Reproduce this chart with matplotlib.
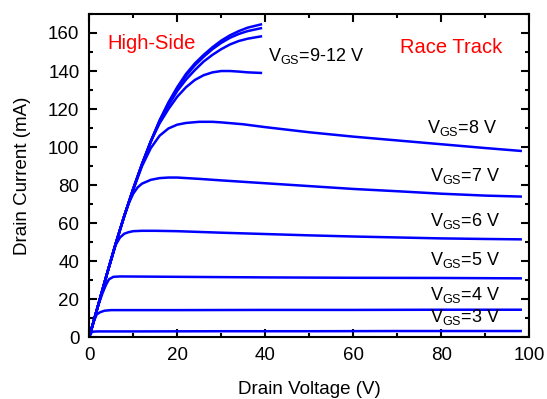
"""
Output characteristics (Id-Vd) of the high-side race track device
"""
import matplotlib
matplotlib.use("Agg")
import matplotlib.pyplot as plt
from matplotlib.ticker import MultipleLocator

plt.rcParams["font.family"] = ["Liberation Sans", "DejaVu Sans"]

# Drain voltage (V) / drain current (mA)
vd_3 = [0, 0.5, 1, 2, 10, 30, 50, 70, 90, 98]
id_3 = [0, 2.5, 3.0, 3.1, 3.1, 3.2, 3.2, 3.3, 3.3, 3.3]

vd_4 = [0, 1, 1.7, 2.5, 3.5, 5, 20, 40, 60, 80, 98]
id_4 = [0, 8, 12, 13.2, 14.0, 14.3, 14.3, 14.4, 14.4, 14.5, 14.5]

vd_5 = [0, 2, 3, 3.8, 4.5, 5.5, 7, 20, 40, 60, 80, 98]
id_5 = [0, 16.5, 23, 27.5, 30.5, 31.8, 32.0, 31.8, 31.5, 31.3, 31.2, 31.0]

vd_6 = [0, 2, 4, 6, 7, 8, 9, 10, 12, 15, 20, 30, 40, 50, 60, 70, 80, 90, 98]
id_6 = [0, 16.5, 33, 48.5, 52.5, 54.5, 55.3, 55.8, 56.0, 56.0, 55.8, 55.0,
        54.3, 53.6, 53.0, 52.5, 52.0, 51.7, 51.5]

vd_7 = [0, 2, 4, 6, 8, 9, 10, 11, 12, 14, 16, 18, 20, 25, 30, 40, 50, 60,
        70, 80, 90, 98]
id_7 = [0, 16.5, 33, 49, 64, 70.5, 75.5, 78.8, 80.8, 82.8, 83.7, 84.0, 84.0,
        83.3, 82.5, 81.0, 79.5, 78.0, 76.8, 75.5, 74.5, 74.0]

vd_8 = [0, 2, 4, 6, 8, 10, 12, 14, 16, 18, 20, 22, 25, 28, 30, 35, 40, 50,
        60, 70, 80, 90, 98]
id_8 = [0, 16.5, 33, 49, 64, 77.5, 90, 99.5, 106, 109.8, 111.8, 112.7, 113.3,
        113.3, 113.0, 112.0, 110.5, 107.8, 105.5, 103.5, 101.5, 99.5, 98.0]

vd_9 = [0, 2, 4, 6, 8, 10, 12, 14, 16, 18, 20, 22, 24, 26, 28, 30, 32, 34,
        36, 39]
id_9 = [0, 16.5, 33, 49, 64, 78, 91, 103, 112.5, 120, 126.5, 131.5, 135.3,
        137.8, 139.3, 140.0, 140.0, 139.7, 139.3, 139.0]

vd_10 = [0, 2, 4, 6, 8, 10, 12, 14, 16, 18, 20, 22, 24, 26, 28, 30, 32, 34,
         36, 39]
id_10 = [0, 16.5, 33, 49, 64, 78, 91, 103, 113.5, 122, 129.5, 135.5, 140.5,
         145, 148.5, 151.5, 154, 155.8, 157, 158.2]

vd_11 = [0, 2, 4, 6, 8, 10, 12, 14, 16, 18, 20, 22, 24, 26, 28, 30, 32, 34,
         36, 39]
id_11 = [0, 16.5, 33, 49, 64, 78, 91, 103, 114, 123, 131, 137.5, 143, 147.5,
         151.5, 154.8, 157.5, 159.5, 161, 162.5]

vd_12 = [0, 2, 4, 6, 8, 10, 12, 14, 16, 18, 20, 22, 24, 26, 28, 30, 32, 34,
         36, 39]
id_12 = [0, 16.5, 33, 49, 64, 78, 91, 103, 114, 123.5, 131.5, 138.5, 144,
         148.5, 152.5, 156, 158.8, 161, 162.8, 164.5]

curves = [(vd_3, id_3), (vd_4, id_4), (vd_5, id_5), (vd_6, id_6),
          (vd_7, id_7), (vd_8, id_8), (vd_9, id_9), (vd_10, id_10),
          (vd_11, id_11), (vd_12, id_12)]

# curve labels and where they sit (data coords)
labels = ["V$_\\mathregular{GS}$=3 V", "V$_\\mathregular{GS}$=4 V",
          "V$_\\mathregular{GS}$=5 V", "V$_\\mathregular{GS}$=6 V",
          "V$_\\mathregular{GS}$=7 V", "V$_\\mathregular{GS}$=8 V",
          "V$_\\mathregular{GS}$=9-12 V"]
label_x = [77.5, 77.5, 77.5, 77.5, 77.5, 76.8, 40.6]
label_y = [10.5, 22.5, 40.5, 61, 85, 110, 148]

fig = plt.figure(figsize=(5.47, 3.99), dpi=100)
ax = fig.add_axes([0.163, 0.1546, 0.805, 0.8104])

for vd, idr in curves:
    ax.plot(vd, idr, color="#0000ff", lw=1.8)

for txt, x, y in zip(labels, label_x, label_y):
    ax.text(x, y, txt, fontsize=13, va="center", ha="left")

ax.text(4.2, 154.5, "High-Side", color="#ff0000", fontsize=14.5, va="center")
ax.text(70.6, 152.5, "Race Track", color="#ff0000", fontsize=14.5,
        va="center")

ax.set_xlim(0, 100)
ax.set_ylim(0, 170)
ax.xaxis.set_major_locator(MultipleLocator(20))
ax.xaxis.set_minor_locator(MultipleLocator(10))
ax.yaxis.set_major_locator(MultipleLocator(20))
ax.yaxis.set_minor_locator(MultipleLocator(10))
ax.tick_params(which="both", direction="in", top=True, right=True,
               width=1.5, labelsize=13.5, pad=7)
ax.tick_params(which="major", length=5.5)
ax.tick_params(which="minor", length=3)
for s in ax.spines.values():
    s.set_linewidth(1.5)

ax.set_xlabel("Drain Voltage (V)", fontsize=13.5, labelpad=12)
ax.set_ylabel("Drain Current (mA)", fontsize=13.5, labelpad=12)

fig.savefig("out.png", dpi=100)
